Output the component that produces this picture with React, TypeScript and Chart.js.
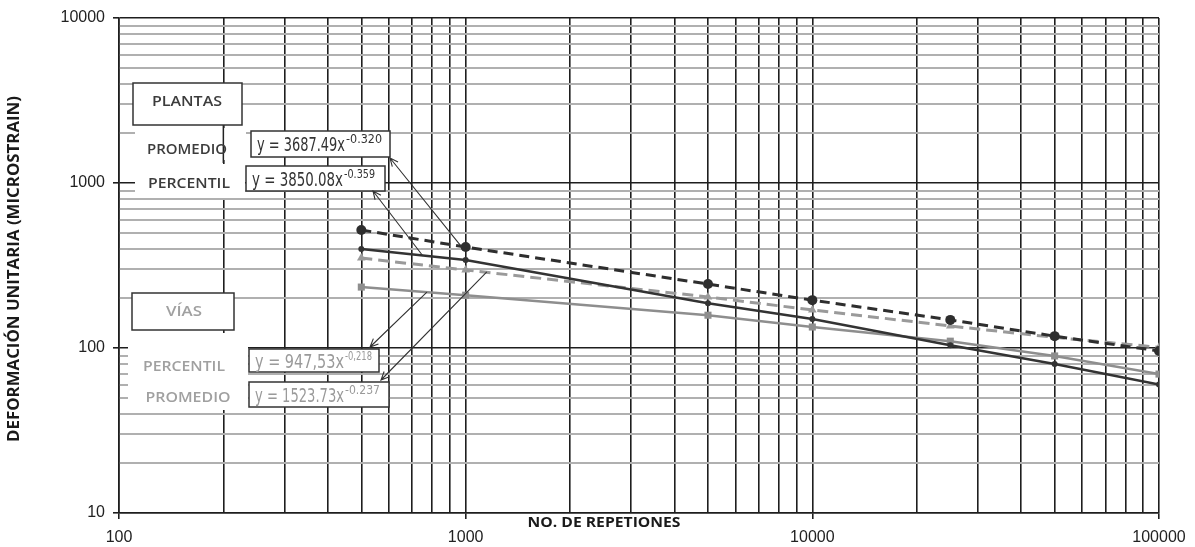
import React, { useEffect, useRef } from "react";
import { Chart, registerables } from "chart.js";
Chart.register(...registerables);

// ---- data ----
const repetitions = [500, 1000, 5000, 10000, 25000, 50000, 100000];
const plantasPromedio = [519, 409, 244, 195, 148, 118, 96];
const plantasPercentil = [398, 341, 187, 150, 104, 80, 60];
const viasPromedio = [351, 297, 204, 170, 136, 116, 101];
const viasPercentil = [234, 209, 158, 134, 110, 89.5, 69.5];

const xTickValues = [
  100, 200, 300, 400, 500, 600, 700, 800, 900,
  1000, 2000, 3000, 4000, 5000, 6000, 7000, 8000, 9000,
  10000, 20000, 30000, 40000, 50000, 60000, 70000, 80000, 90000,
  100000,
];
const yTickValues = [
  10, 20, 30, 40, 50, 60, 70, 80, 90,
  100, 200, 300, 400, 500, 600, 700, 800, 900,
  1000, 2000, 3000, 4000, 5000, 6000, 7000, 8000, 9000,
  10000,
];
const xTickLabels = ["100", "1000", "10000", "100000"];
const yTickLabels = ["10", "100", "1000", "10000"];

const xTitle = "NO. DE REPETIONES";
const yTitle = "DEFORMACIÓN UNITARIA (MICROSTRAIN)";

const isDecade = (v: number) => Math.abs(Math.log10(v) - Math.round(Math.log10(v))) < 1e-9;

function fillFit(ctx: CanvasRenderingContext2D, text: string, x: number, y: number, width: number, align: "left" | "center" = "left") {
  const m = ctx.measureText(text).width;
  const s = width / m;
  ctx.save();
  ctx.translate(x, y);
  ctx.scale(s, 1);
  ctx.textAlign = align;
  ctx.fillText(text, 0, 0);
  ctx.restore();
}

function arrow(ctx: CanvasRenderingContext2D, x1: number, y1: number, x2: number, y2: number) {
  ctx.beginPath();
  ctx.moveTo(x1, y1);
  ctx.lineTo(x2, y2);
  const a = Math.atan2(y2 - y1, x2 - x1);
  const L = 9;
  const w = 0.42;
  ctx.moveTo(x2 - L * Math.cos(a - w), y2 - L * Math.sin(a - w));
  ctx.lineTo(x2, y2);
  ctx.lineTo(x2 - L * Math.cos(a + w), y2 - L * Math.sin(a + w));
  ctx.stroke();
}

const EQ_FONT = '19px "Liberation Sans Narrow", "DejaVu Sans Condensed", "Liberation Sans", sans-serif';
const SUP_FONT = '12px "Liberation Sans Narrow", "DejaVu Sans Condensed", "Liberation Sans", sans-serif';
const LBL_FONT = '600 15px "Open Sans", sans-serif';

function eqBox(ctx: CanvasRenderingContext2D, x: number, y: number, w: number, h: number, main: string, sup: string, color: string, mainW: number, supW: number) {
  ctx.fillStyle = "#fff";
  ctx.fillRect(x, y, w, h);
  ctx.strokeStyle = "#333";
  ctx.lineWidth = 1.5;
  ctx.strokeRect(x, y, w, h);
  ctx.fillStyle = color;
  ctx.textBaseline = "alphabetic";
  ctx.font = EQ_FONT;
  fillFit(ctx, main, x + 6, y + h / 2 + 7, mainW);
  ctx.font = SUP_FONT;
  fillFit(ctx, sup, x + 7 + mainW, y + h / 2 - 1, supW);
}

const annotationPlugin = {
  id: "annotations",
  afterDraw(chart: any) {
    const ctx: CanvasRenderingContext2D = chart.ctx;
    const xs = chart.scales.x;
    const ys = chart.scales.y;
    const P = (xv: number, yv: number) => [xs.getPixelForValue(xv), ys.getPixelForValue(yv)];
    ctx.save();

    // white backgrounds behind free text
    ctx.fillStyle = "#fff";
    ctx.fillRect(135, 128, 111, 32);
    ctx.fillRect(135, 164, 110, 34);
    ctx.fillRect(128, 333, 120, 77);
    // vertical grid line visible through PROMEDIO
    ctx.strokeStyle = "#222";
    ctx.lineWidth = 1.5;
    ctx.beginPath();
    const x200 = xs.getPixelForValue(200);
    ctx.moveTo(x200, 125);
    ctx.lineTo(x200, 163);
    ctx.stroke();

    // PLANTAS / VÍAS boxes
    ctx.fillStyle = "#fff";
    ctx.fillRect(133, 83, 109, 42);
    ctx.fillRect(132, 293, 102, 37);
    ctx.strokeStyle = "#333";
    ctx.lineWidth = 1.5;
    ctx.strokeRect(133, 83, 109, 42);
    ctx.strokeRect(132, 293, 102, 37);

    ctx.textBaseline = "middle";
    ctx.font = LBL_FONT;
    ctx.fillStyle = "#3c3c3c";
    fillFit(ctx, "PLANTAS", 187, 102, 70, "center");
    fillFit(ctx, "PROMEDIO", 187, 150, 80, "center");
    fillFit(ctx, "PERCENTIL", 189, 184, 82, "center");
    ctx.fillStyle = "#a0a0a0";
    fillFit(ctx, "VÍAS", 184, 312, 36, "center");
    fillFit(ctx, "PERCENTIL", 184, 367, 82, "center");
    fillFit(ctx, "PROMEDIO", 188, 398, 85, "center");

    // equation boxes
    eqBox(ctx, 251, 131, 139, 26, "y = 3687.49x", "-0.320", "#333", 88, 36);
    eqBox(ctx, 246, 166, 139, 25, "y = 3850.08x", "-0.359", "#333", 91, 31);
    eqBox(ctx, 249, 349, 130, 23, "y = 947,53x", "-0,218", "#9a9a9a", 89, 27);
    eqBox(ctx, 249, 382, 140, 25, "y = 1523.73x", "-0.237", "#9a9a9a", 89, 35);

    // arrows (tail on the trend line, head at the box)
    ctx.strokeStyle = "#333";
    ctx.lineWidth = 1.1;
    let [ax, ay] = P(975, 409);
    arrow(ctx, ax, ay, 390, 158);
    [ax, ay] = P(753, 361);
    arrow(ctx, ax, ay, 373, 191);
    [ax, ay] = P(773, 218);
    arrow(ctx, ax, ay, 370, 347);
    [ax, ay] = P(1151, 289);
    arrow(ctx, ax, ay, 381, 380);

    // axis titles
    ctx.fillStyle = "#1a1a1a";
    ctx.font = 'bold 15px "Open Sans", sans-serif';
    ctx.textBaseline = "middle";
    fillFit(ctx, xTitle, 604, 523, 153, "center");
    ctx.font = 'bold 16px "Open Sans", sans-serif';
    ctx.save();
    ctx.translate(14, 269);
    ctx.rotate(-Math.PI / 2);
    fillFit(ctx, yTitle, 0, 0, 346, "center");
    ctx.restore();

    ctx.restore();
  },
};

export default function App() {
  const ref = useRef<HTMLCanvasElement | null>(null);
  useEffect(() => {
    if (!ref.current) return;
    const mk = (arr: number[]) => repetitions.map((x, i) => ({ x, y: arr[i] }));
    const chart = new Chart(ref.current, {
      type: "line",
      data: {
        datasets: [
          {
            label: "Plantas promedio",
            data: mk(plantasPromedio),
            borderColor: "#2e2e2e",
            backgroundColor: "#2e2e2e",
            borderWidth: 3,
            borderDash: [10, 6],
            pointStyle: "circle",
            pointRadius: 5,
            pointBorderWidth: 0,
          },
          {
            label: "Plantas percentil",
            data: mk(plantasPercentil),
            borderColor: "#333333",
            backgroundColor: "#333333",
            borderWidth: 2.5,
            pointStyle: "circle",
            pointRadius: 3,
            pointBorderWidth: 0,
          },
          {
            label: "Vías promedio",
            data: mk(viasPromedio),
            borderColor: "#9a9a9a",
            backgroundColor: "#9a9a9a",
            borderWidth: 3,
            borderDash: [11, 6],
            pointStyle: "triangle",
            pointRadius: 5,
            pointBorderWidth: 0,
          },
          {
            label: "Vías percentil",
            data: mk(viasPercentil),
            borderColor: "#8e8e8e",
            backgroundColor: "#8e8e8e",
            borderWidth: 2.5,
            pointStyle: "rect",
            pointRadius: 5,
            pointBorderWidth: 0,
          },
        ],
      },
      options: {
        animation: false,
        responsive: true,
        maintainAspectRatio: false,
        layout: { padding: { top: 18, right: 36, left: 0, bottom: 0 } },
        plugins: { legend: { display: false }, tooltip: { enabled: false } },
        scales: {
          x: {
            type: "logarithmic",
            min: 100,
            max: 100000,
            afterBuildTicks: (s: any) => {
              s.ticks = xTickValues.map((v) => ({ value: v, major: isDecade(v) }));
            },
            afterFit: (s: any) => {
              s.height = 34;
            },
            ticks: {
              autoSkip: false,
              maxRotation: 0,
              padding: 9,
              color: "#222",
              font: { family: '"Liberation Sans", Arial, sans-serif', size: 16 },
              callback: (v: any) => {
                const s = String(Math.round(Number(v)));
                return xTickLabels.includes(s) ? s : "";
              },
            },
            grid: {
              color: "#1e1e1e",
              lineWidth: 1.6,
              tickLength: 6,
              tickColor: (c: any) => (c.tick && isDecade(c.tick.value) ? "#1e1e1e" : "rgba(0,0,0,0)"),
            },
            border: { color: "#1e1e1e", width: 1.6 },
          },
          y: {
            type: "logarithmic",
            min: 10,
            max: 10000,
            afterBuildTicks: (s: any) => {
              s.ticks = yTickValues.map((v) => ({ value: v, major: isDecade(v) }));
            },
            afterFit: (s: any) => {
              s.width = 119;
            },
            ticks: {
              autoSkip: false,
              padding: 8,
              color: "#222",
              font: { family: '"Liberation Sans", Arial, sans-serif', size: 16 },
              callback: (v: any) => {
                const s = String(Math.round(Number(v)));
                return yTickLabels.includes(s) ? s : "";
              },
            },
            grid: {
              color: (c: any) => (c.tick && isDecade(c.tick.value) ? "#1e1e1e" : "#b0b0b0"),
              lineWidth: (c: any) => (c.tick && isDecade(c.tick.value) ? 1.6 : 2),
              tickLength: 6,
              tickColor: (c: any) => (c.tick && isDecade(c.tick.value) ? "#1e1e1e" : "rgba(0,0,0,0)"),
            },
            border: { color: "#1e1e1e", width: 1.6 },
          },
        },
      },
      plugins: [annotationPlugin],
    } as any);
    return () => chart.destroy();
  }, []);
  return (
    <div style={{ position: "absolute", left: 0, top: 0, width: 1195, height: 547, background: "#fff" }}>
      <canvas ref={ref} />
    </div>
  );
}
